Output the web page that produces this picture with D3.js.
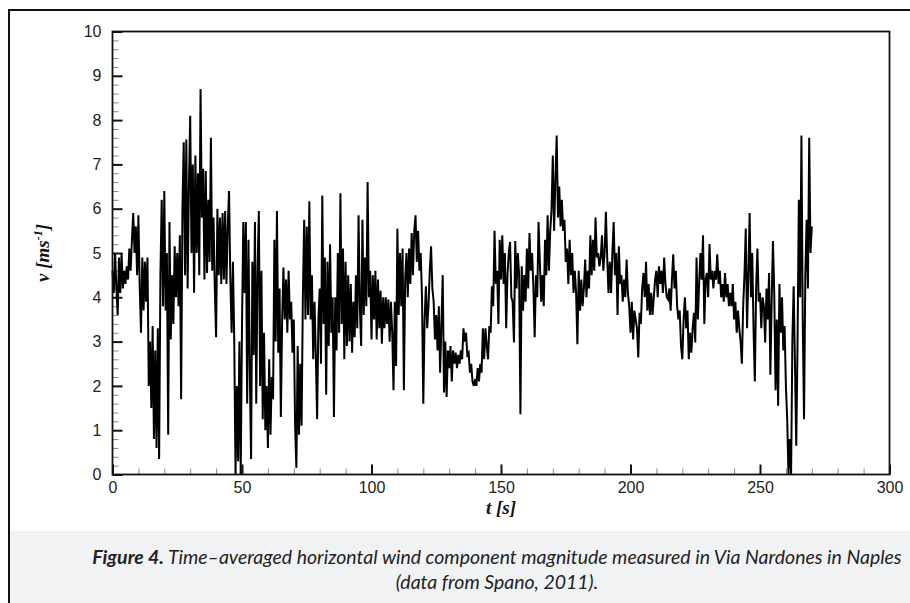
<!DOCTYPE html>
<html>
<head>
<meta charset="utf-8">
<script src="https://cdn.jsdelivr.net/npm/d3@7"></script>
<style>
  body { margin: 0; background: #fff; }
  .tick text { font-family: "Liberation Sans", Arial, sans-serif; font-size: 16px; fill: #222; }
  .title { font-family: "Liberation Serif", "Times New Roman", serif; font-weight: bold; font-style: italic; font-size: 19px; fill: #111; }
  .caption { font-family: Lato, "Open Sans", sans-serif; font-style: italic; fill: #222; }
</style>
</head>
<body>
<svg class="chart" width="910" height="603"></svg>
<script>
var dt = 0.5;
var speed = [
    4.6, 4.1, 5.0, 4.2, 3.6, 4.9, 4.1, 5.0, 4.2, 4.6, 4.3, 4.7, 4.4, 5.1, 4.6, 5.3, 5.9, 5.0, 5.6, 4.5,
    5.85, 4.25, 3.2, 4.9, 3.7, 4.8, 3.9, 4.9, 2.0, 3.0, 1.5, 3.35, 0.8, 2.8, 0.6, 3.3, 0.35, 4.5, 6.2, 3.8,
    6.4, 3.7, 5.0, 0.9, 5.7, 3.05, 4.5, 3.4, 5.15, 4.0, 5.0, 3.8, 5.4, 1.7, 6.0, 7.5, 4.5, 7.56, 4.2, 6.5,
    8.1, 5.0, 7.0, 4.1, 7.2, 5.0, 6.8, 4.5, 8.7, 5.8, 6.9, 4.4, 6.85, 4.55, 6.2, 4.8, 7.6, 4.6, 5.8, 4.2,
    3.1, 6.0, 4.5, 5.8, 4.3, 5.9, 4.4, 5.95, 4.3, 5.6, 6.4, 4.4, 3.2, 4.8, 3.05, 0.0, 2.0, 0.3, 3.0, 0.0,
    3.35, 5.7, 4.1, 5.7, 1.6, 5.3, 2.4, 0.35, 4.8, 2.7, 5.7, 1.6, 4.6, 5.95, 2.0, 4.6, 1.25, 3.2, 1.0, 2.0,
    0.6, 2.6, 0.9, 2.2, 1.7, 5.3, 3.0, 5.95, 2.75, 4.2, 1.3, 3.5, 4.67, 3.5, 4.4, 3.2, 4.6, 3.5, 3.9, 2.75,
    3.5, 1.1, 0.15, 2.9, 0.9, 2.5, 1.1, 4.0, 5.75, 3.5, 5.6, 3.6, 6.17, 3.5, 4.5, 2.6, 3.9, 2.7, 1.25, 3.5,
    4.2, 2.5, 6.3, 3.4, 4.9, 1.8, 4.8, 2.9, 5.2, 3.2, 4.0, 1.3, 4.0, 2.8, 5.0, 3.2, 6.35, 3.4, 5.1, 2.6,
    4.8, 2.9, 4.5, 3.0, 4.3, 2.75, 3.9, 3.1, 4.5, 3.3, 5.85, 3.8, 2.9, 5.75, 3.6, 4.9, 3.8, 6.6, 4.0, 4.6,
    3.05, 4.5, 3.5, 4.6, 3.05, 4.4, 3.3, 4.15, 2.95, 4.0, 3.3, 4.0, 3.4, 3.95, 3.0, 3.9, 3.2, 1.9, 3.9, 2.45,
    5.55, 3.6, 5.0, 3.8, 5.1, 1.9, 4.4, 5.0, 4.0, 5.1, 4.3, 5.45, 4.5, 5.5, 5.85, 4.8, 5.5, 4.6, 5.0, 4.0,
    1.6, 3.5, 4.25, 3.3, 3.8, 4.6, 5.15, 4.2, 3.9, 3.05, 3.6, 2.8, 3.8, 2.3, 3.4, 4.5, 1.85, 3.0, 1.75, 2.8,
    2.4, 2.9, 2.1, 2.8, 2.5, 2.75, 2.4, 2.7, 2.5, 2.8, 2.6, 3.3, 3.0, 3.2, 2.7, 2.75, 2.3, 2.5, 2.1, 2.0,
    2.15, 2.0, 2.4, 2.1, 2.5, 2.3, 3.3, 2.6, 3.3, 2.9, 2.6, 3.35, 3.2, 4.25, 3.8, 5.5, 4.3, 4.6, 3.4, 5.3,
    4.4, 5.4, 4.3, 5.0, 3.3, 4.5, 5.0, 5.25, 4.0, 3.9, 2.98, 5.27, 4.2, 5.0, 4.5, 1.36, 4.7, 3.7, 4.5, 3.9,
    5.1, 4.2, 5.45, 4.6, 5.0, 4.25, 3.1, 4.5, 4.0, 5.7, 4.8, 3.9, 4.5, 3.8, 5.3, 4.5, 5.85, 4.6, 5.5, 5.95,
    7.2, 5.5, 6.65, 7.65, 5.8, 6.5, 5.6, 6.2, 5.5, 5.75, 4.8, 5.1, 4.3, 5.3, 4.5, 5.0, 4.1, 4.6, 4.1, 2.94,
    4.6, 3.7, 4.4, 3.8, 4.2, 4.85, 4.0, 4.6, 4.2, 5.4, 4.5, 5.3, 4.6, 5.8, 4.9, 5.0, 4.7, 4.9, 5.4, 4.6,
    5.0, 5.93, 4.9, 4.1, 4.8, 4.1, 5.0, 5.7, 4.5, 5.0, 3.6, 5.15, 4.3, 4.5, 3.9, 4.4, 4.0, 4.85, 4.1, 3.8,
    3.2, 3.9, 3.05, 3.7, 3.5, 3.3, 2.64, 3.65, 3.4, 4.2, 4.55, 4.0, 4.8, 3.7, 4.3, 3.6, 4.1, 3.6, 4.0, 4.4,
    4.6, 4.0, 4.7, 4.3, 4.6, 4.1, 4.9, 4.3, 4.0, 3.95, 4.2, 3.7, 4.4, 4.97, 4.2, 4.6, 3.8, 3.5, 3.7, 2.9,
    2.6, 3.5, 4.0, 3.3, 3.7, 2.6, 3.2, 2.75, 3.3, 3.65, 2.98, 4.9, 3.5, 4.3, 5.0, 4.4, 5.4, 3.4, 4.4, 4.55,
    4.0, 5.2, 4.4, 4.6, 4.2, 4.6, 4.4, 4.97, 4.3, 4.6, 4.0, 4.3, 3.9, 4.55, 4.0, 4.3, 3.8, 4.1, 3.8, 4.3,
    3.5, 3.9, 3.2, 3.7, 3.3, 3.0, 2.5, 3.8, 4.5, 5.55, 3.3, 4.5, 5.9, 4.0, 5.0, 3.3, 2.1, 4.2, 5.1, 3.9,
    4.1, 3.3, 4.0, 3.8, 2.98, 4.2, 3.5, 4.55, 2.25, 3.9, 5.27, 4.1, 1.9, 3.5, 1.55, 4.3, 3.2, 4.0, 2.8, 3.35,
    2.0, 1.25, 0.0, 0.8, 0.0, 3.05, 4.25, 2.5, 0.65, 3.0, 6.2, 4.0, 7.65, 3.5, 1.25, 4.5, 5.75, 4.2, 7.6, 5.0, 5.6
];

var xMajor = [0, 50, 100, 150, 200, 250, 300];
var yMajor = [0, 1, 2, 3, 4, 5, 6, 7, 8, 9, 10];
var captionBold = "Figure 4.";
var captionLine1 = " Time\u2013averaged horizontal wind component magnitude measured in Via Nardones in Naples";
var captionLine2 = "(data from Spano, 2011).";

var svg = d3.select(".chart");

// Caption panel and the frame
svg.append("rect")
    .attr("x", 10).attr("y", 531)
    .attr("width", 900).attr("height", 72)
    .attr("fill", "#f1f2f4");

svg.append("path")
    .attr("d", "M9,603V10H910")
    .attr("fill", "none")
    .attr("stroke", "#111")
    .attr("stroke-width", 2);

// Set the ranges
var x = d3.scaleLinear().domain([0, 300]).range([112.5, 889.5]);
var y = d3.scaleLinear().domain([0, 10]).range([474.5, 31.5]);

var xMinor = d3.range(0, 301, 10).filter(function (d) { return d % 50 !== 0; });
var yMinor = d3.range(0, 50).map(function (i) { return i / 5; }).filter(function (d) { return Math.abs(d - Math.round(d)) > 1e-6; });

// Minor ticks
svg.append("g")
    .attr("class", "minor")
    .attr("transform", "translate(0," + y(0) + ")")
    .call(d3.axisBottom(x).tickValues(xMinor).tickSizeInner(-6).tickSizeOuter(0).tickFormat(""));

svg.append("g")
    .attr("class", "minor")
    .attr("transform", "translate(" + x(0) + ",0)")
    .call(d3.axisLeft(y).tickValues(yMinor).tickSizeInner(-6).tickSizeOuter(0).tickFormat(""));

svg.selectAll(".minor .tick line").attr("stroke", "#8a8a8a").attr("stroke-width", 1);

// Add the X Axis
svg.append("g")
    .attr("class", "major")
    .attr("transform", "translate(0," + y(0) + ")")
    .call(d3.axisBottom(x).tickValues(xMajor).tickSizeInner(-10).tickSizeOuter(0).tickPadding(7));

// Add the Y Axis
svg.append("g")
    .attr("class", "major")
    .attr("transform", "translate(" + x(0) + ",0)")
    .call(d3.axisLeft(y).tickValues(yMajor).tickSizeInner(-10).tickSizeOuter(0).tickPadding(11));

svg.selectAll(".major .tick line").attr("stroke", "#111").attr("stroke-width", 2);
svg.selectAll(".domain").remove();

// The line
var line = d3.line()
    .x(function (d, i) { return x(i * dt); })
    .y(function (d) { return y(d); });

svg.append("path")
    .datum(speed)
    .attr("fill", "none")
    .attr("stroke", "#000")
    .attr("stroke-width", 2)
    .attr("stroke-linejoin", "miter")
    .attr("d", line);

// Plot box
svg.append("rect")
    .attr("x", x(0)).attr("y", y(10))
    .attr("width", x(300) - x(0)).attr("height", y(0) - y(10))
    .attr("fill", "none")
    .attr("stroke", "#111")
    .attr("stroke-width", 1.8);

// Axis titles
svg.append("text")
    .attr("class", "title")
    .attr("x", x(150))
    .attr("y", 514)
    .attr("text-anchor", "middle")
    .text("t [s]");

var yt = svg.append("text")
    .attr("class", "title")
    .attr("transform", "translate(49," + y(5) + ") rotate(-90)")
    .attr("text-anchor", "middle");
yt.append("tspan").text("v [ms");
yt.append("tspan").attr("dy", -7).style("font-size", "12px").text("-1");
yt.append("tspan").attr("dy", 7).text("]");

// Caption
var cap1 = svg.append("text")
    .attr("class", "caption")
    .attr("x", 497)
    .attr("y", 564)
    .attr("text-anchor", "middle")
    .style("font-size", "17px");
cap1.append("tspan").style("font-weight", "bold").text(captionBold);
cap1.append("tspan").text(captionLine1);

var w1 = cap1.node().getComputedTextLength();
var fs = 17 * 810 / w1;
cap1.style("font-size", fs + "px");

svg.append("text")
    .attr("class", "caption")
    .attr("x", 497)
    .attr("y", 589)
    .attr("text-anchor", "middle")
    .style("font-size", fs + "px")
    .text(captionLine2);
</script>
</body>
</html>
